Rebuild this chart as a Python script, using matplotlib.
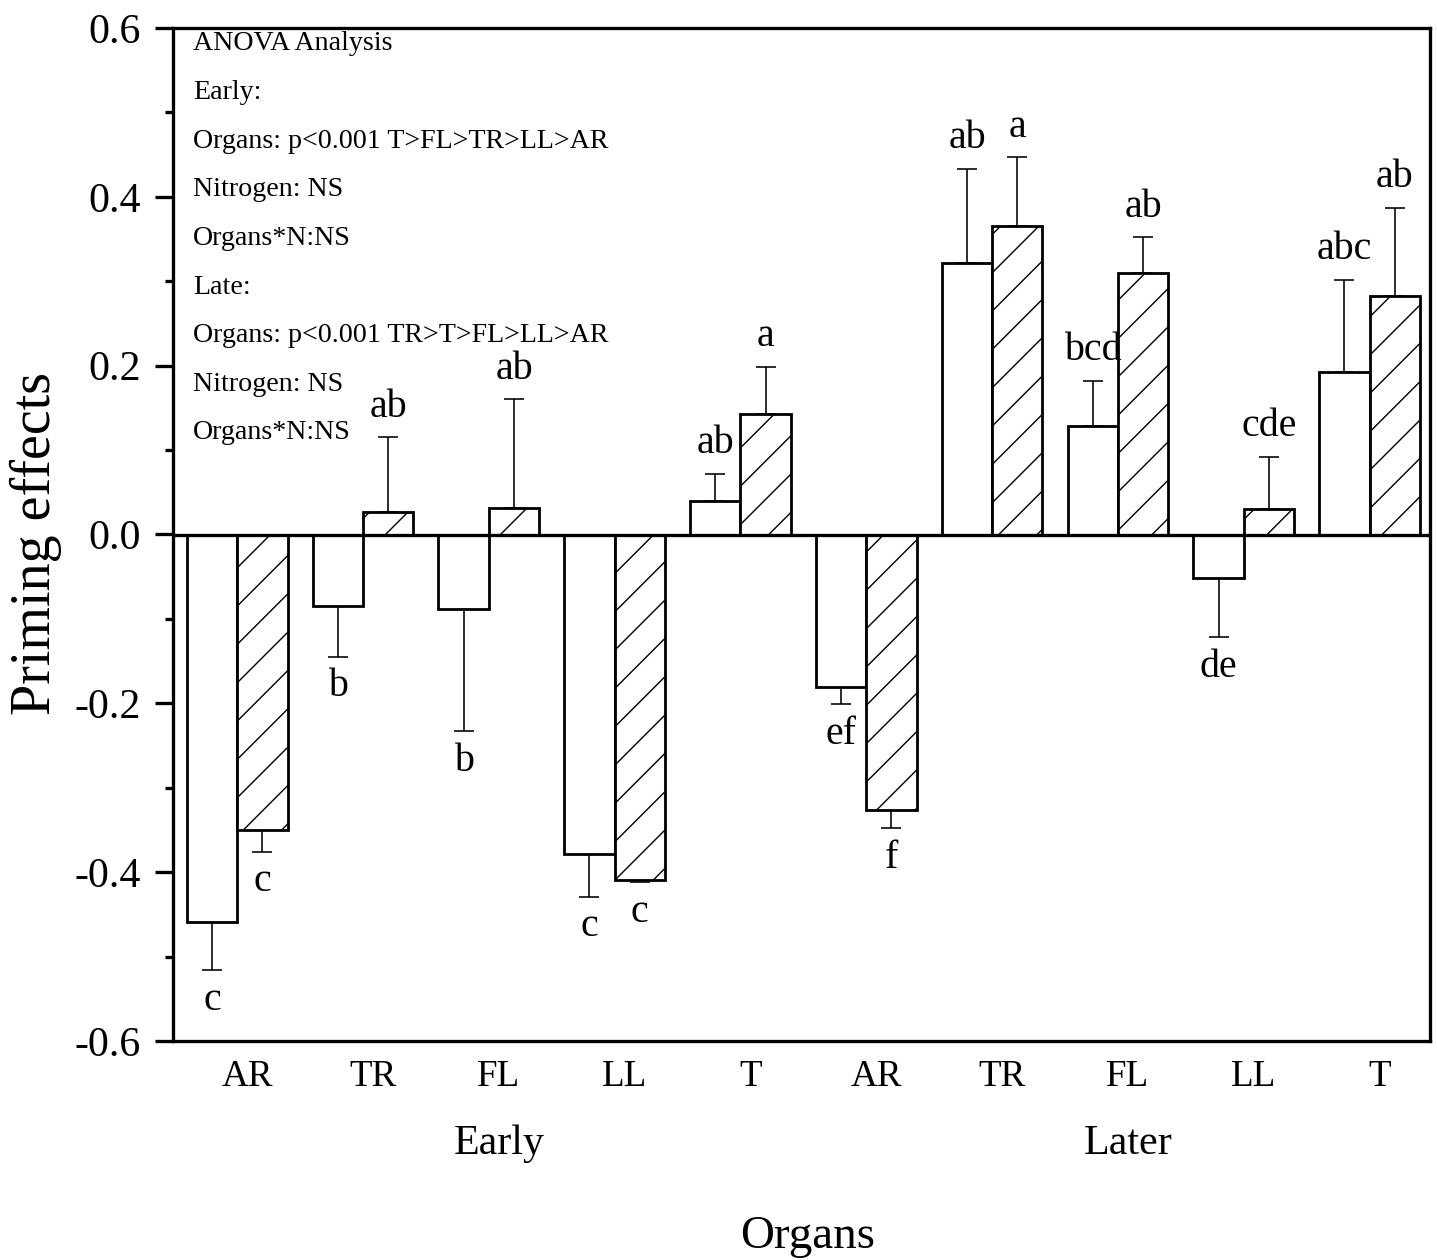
import numpy as np
import matplotlib
matplotlib.use("Agg")
import matplotlib.pyplot as plt

# data
organs = ["AR", "TR", "FL", "LL", "T", "AR", "TR", "FL", "LL", "T"]
stages = ["Early", "Later"]
ctrl = [-0.459, -0.085, -0.088, -0.378, 0.040, -0.181, 0.322, 0.129, -0.051, 0.192]
ctrl_err = [0.057, 0.060, 0.145, 0.051, 0.032, 0.020, 0.111, 0.053, 0.071, 0.110]
nitro = [-0.350, 0.027, 0.031, -0.409, 0.143, -0.326, 0.366, 0.310, 0.030, 0.283]
nitro_err = [0.026, 0.088, 0.129, 0.003, 0.056, 0.022, 0.081, 0.042, 0.062, 0.104]
ctrl_letters = ["c", "b", "b", "c", "ab", "ef", "ab", "bcd", "de", "abc"]
nitro_letters = ["c", "ab", "ab", "c", "a", "f", "a", "ab", "cde", "ab"]
anova_lines = [
    "ANOVA Analysis",
    "Early:",
    "Organs: p<0.001 T>FL>TR>LL>AR",
    "Nitrogen: NS",
    "Organs*N:NS",
    "Late:",
    "Organs: p<0.001 TR>T>FL>LL>AR",
    "Nitrogen: NS",
    "Organs*N:NS",
]

# dpi picked so the '/' hatch spacing matches the original (~28 px)
DPI = 115


def P(px):
    """pixels -> points"""
    return px * 72.0 / DPI


plt.rcParams["font.family"] = ["Liberation Serif", "DejaVu Serif"]
plt.rcParams["axes.unicode_minus"] = False
plt.rcParams["hatch.linewidth"] = P(1.4)

fig = plt.figure(figsize=(1437 / DPI, 1260 / DPI), dpi=DPI)
ax = fig.add_axes([173 / 1437, 1 - 1041 / 1260, 1257 / 1437, 1013 / 1260])

x = np.arange(1, len(organs) + 1)
w = 0.4


def one_sided(vals, errs):
    vals = np.array(vals)
    errs = np.array(errs)
    lo = np.where(vals < 0, errs, 0)
    hi = np.where(vals >= 0, errs, 0)
    return [lo, hi]


ax.bar(x - w / 2, ctrl, w, color="white", edgecolor="black", linewidth=P(2.8), zorder=2)
ax.bar(x + w / 2, nitro, w, color="white", edgecolor="black", linewidth=P(2.8),
       hatch="/", zorder=2)
ax.errorbar(x - w / 2, ctrl, yerr=one_sided(ctrl, ctrl_err), fmt="none",
            ecolor="black", elinewidth=P(1.6), capsize=P(10), capthick=P(1.6), zorder=1)
ax.errorbar(x + w / 2, nitro, yerr=one_sided(nitro, nitro_err), fmt="none",
            ecolor="black", elinewidth=P(1.6), capsize=P(10), capthick=P(1.6), zorder=1)

# significance letters at the end of each error bar
for xs, vals, errs, letters in [(x - w / 2, ctrl, ctrl_err, ctrl_letters),
                                (x + w / 2, nitro, nitro_err, nitro_letters)]:
    for xi, v, e, lab in zip(xs, vals, errs, letters):
        sign = 1 if v >= 0 else -1
        ax.annotate(lab, (xi, v + sign * e), xytext=(0, sign * P(30)),
                    textcoords="offset points", ha="center", va="center",
                    fontsize=P(40))

ax.axhline(0, color="black", linewidth=P(3.3), zorder=3)

ax.set_xlim(0.49, 10.48)
ax.set_ylim(-0.6, 0.6)
ax.set_yticks(np.arange(-0.6, 0.61, 0.2))
ax.set_yticklabels([f"{v:.1f}" for v in np.arange(-0.6, 0.61, 0.2)])
ax.set_yticks(np.arange(-0.5, 0.6, 0.2), minor=True)
ax.set_xticks(x + 0.08)
ax.set_xticklabels(organs)
ax.tick_params(axis="y", which="major", direction="out", length=P(18), width=P(3.3),
               labelsize=P(42), pad=P(14))
ax.tick_params(axis="y", which="minor", direction="out", length=P(8), width=P(3.3))
ax.tick_params(axis="x", length=0, labelsize=P(37), pad=P(19))
for s in ax.spines.values():
    s.set_linewidth(P(3.3))

ax.set_ylabel("Priming effects", fontsize=P(56))
ax.yaxis.set_label_coords(-0.0884, 0.4916)

for i, st in enumerate(stages):
    ax.text(np.mean(x[i * 5:(i + 1) * 5]) + 0.08, -0.722, st, ha="center",
            va="center", fontsize=P(42))
fig.text(808 / 1437, 1 - 1237 / 1260, "Organs", ha="center", va="center",
         fontsize=P(47))

for i, line in enumerate(anova_lines):
    ypix = 44 + 48.6 * i
    ax.text(0.016, (1041 - ypix) / 1013, line, transform=ax.transAxes,
            ha="left", va="center", fontsize=P(28))

fig.savefig("out.png", dpi=DPI)
